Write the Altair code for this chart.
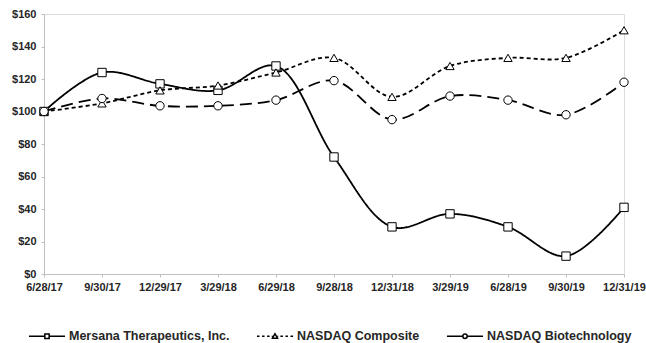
import altair as alt
import pandas as pd

dates = ["6/28/17", "9/30/17", "12/29/17", "3/29/18", "6/29/18", "9/28/18",
         "12/31/18", "3/29/19", "6/28/19", "9/30/19", "12/31/19"]
series_names = ["Mersana Therapeutics, Inc.", "NASDAQ Composite", "NASDAQ Biotechnology"]
mersana = [100, 124, 117, 113, 128, 72, 29, 37, 29, 11, 41]
composite = [100, 105, 113, 116, 124, 133, 109, 128, 133, 133, 150]
biotech = [100, 108, 103.5, 103.5, 107, 119, 95, 109.5, 107, 98, 118]

rows = []
for name, vals in zip(series_names, [mersana, composite, biotech]):
    for d, v in zip(dates, vals):
        rows.append({"date": d, "value": v, "series": name})
df = pd.DataFrame(rows)

FONT = "Liberation Sans"
INK = "#262626"

x_enc = alt.X("date:N", sort=dates, scale=alt.Scale(type="point", padding=0),
              axis=alt.Axis(title=None, labelAngle=0, labelFont=FONT, labelFontSize=11,
                            labelFontWeight="bold", labelColor=INK, domainColor="#bfbfbf",
                            tickColor="#bfbfbf", tickSize=3, labelPadding=4, grid=False))
y_enc = alt.Y("value:Q", scale=alt.Scale(domain=[0, 160], nice=False),
              axis=alt.Axis(title=None, values=list(range(0, 161, 20)),
                            labelExpr="'$' + datum.value", labelFont=FONT, labelFontSize=11,
                            labelFontWeight="bold", labelColor=INK, domainColor="#bfbfbf",
                            tickColor="#bfbfbf", tickSize=3, labelPadding=5, grid=False))

lines = alt.Chart(df).mark_line(color="black", interpolate="catmull-rom", strokeWidth=1.8).encode(
    x=x_enc, y=y_enc,
    strokeDash=alt.StrokeDash("series:N", scale=alt.Scale(domain=series_names,
                              range=[[1, 0], [4, 3], [12, 6]]), legend=None),
    detail="series:N",
)

points = alt.Chart(df).mark_point(filled=True, fill="white", stroke="black", strokeWidth=1,
                                  size=70, opacity=1).encode(
    x=x_enc, y=y_enc,
    shape=alt.Shape("series:N", scale=alt.Scale(domain=series_names,
                    range=["square", "triangle-up", "circle"]), legend=None),
)

sq = "M-1,0H-0.12M0.12,0H1M-0.12,-0.12H0.12V0.12H-0.12Z"
tri = ("M-1,0H-0.86M-0.72,0H-0.58M-0.44,0H-0.3M-0.18,0H-0.14M0.14,0H0.18M0.3,0H0.44M0.58,0H0.72M0.86,0H1"
       "M-0.14,0.11L0,-0.14L0.14,0.11Z")
circ = "M-1,0H-0.12M0.12,0H1M0.12,0A0.12,0.12 0 1,1 -0.12,0A0.12,0.12 0 1,1 0.12,0Z"

legend_layer = alt.Chart(df).transform_filter("false").mark_point(
    filled=False, color="black", stroke="black", strokeWidth=1.5, opacity=1).encode(
    x=x_enc, y=y_enc,
    shape=alt.Shape("series:N", scale=alt.Scale(domain=series_names, range=[sq, tri, circ]),
                    legend=alt.Legend(title=None, orient="none", legendX=-16, legendY=303,
                                      direction="horizontal", columns=3, symbolSize=1300,
                                      symbolStrokeColor="black", symbolFillColor="white",
                                      symbolOpacity=1,
                                      symbolStrokeWidth=1.5, labelFont=FONT, labelFontSize=12.5,
                                      labelFontWeight="bold", labelColor=INK, labelOffset=3,
                                      columnPadding=23, labelLimit=300)),
)

chart = alt.layer(lines, points, legend_layer).resolve_scale(shape="independent").properties(
    width=580, height=260,
    autosize=alt.AutoSizeParams(type="none"),
    padding={"left": 44, "top": 14, "right": 22, "bottom": 69},
).configure_view(stroke=None).configure(background="white")

chart.save("out.html", embed_options={"renderer": "svg", "actions": False})
